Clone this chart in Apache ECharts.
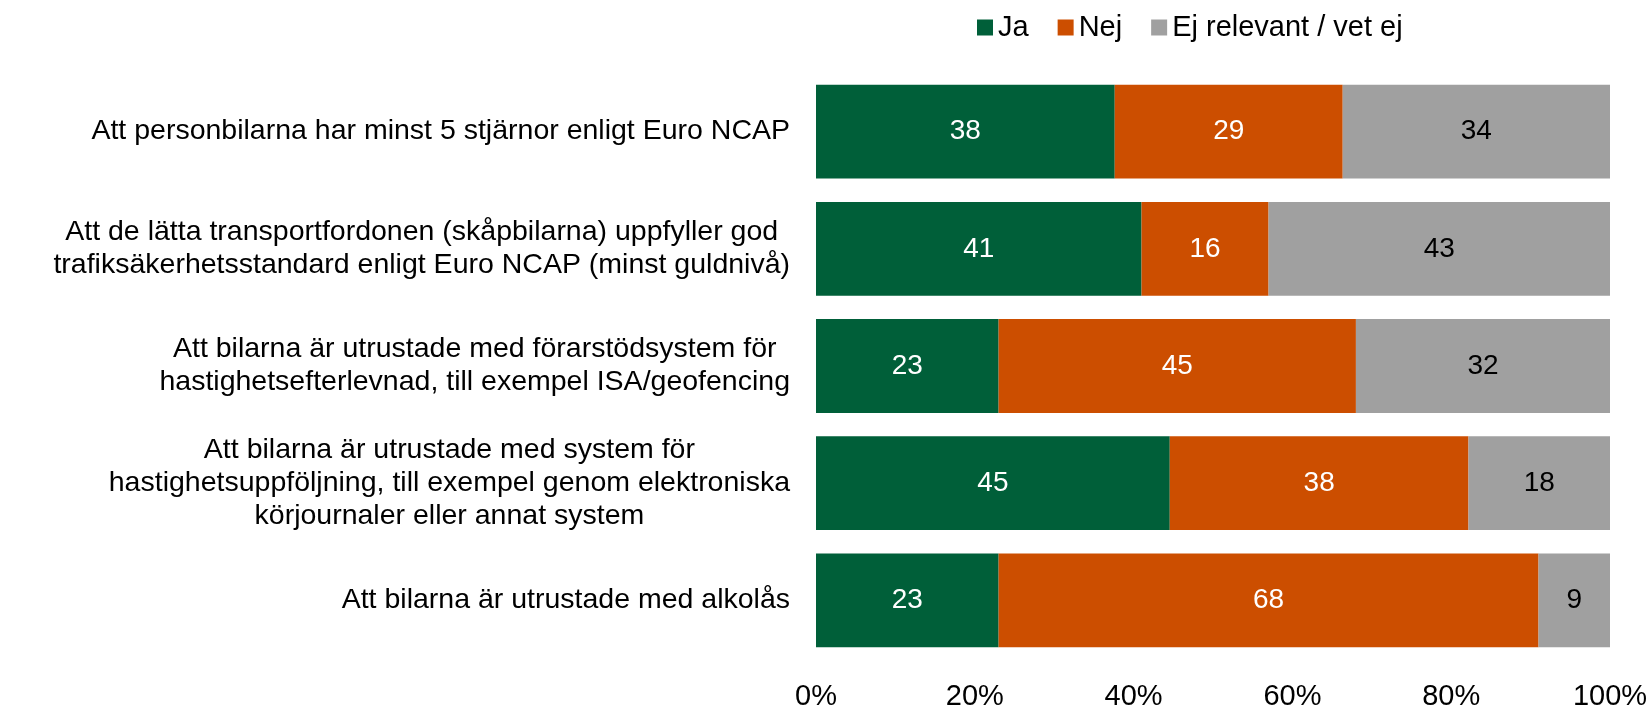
<!DOCTYPE html>
<html>
<head>
<meta charset="utf-8">
<script src="https://cdn.jsdelivr.net/npm/echarts@6/dist/echarts.min.js"></script>
<style>
  html, body { margin: 0; padding: 0; background: #fff; }
  #main { width: 1652px; height: 709px; }
</style>
</head>
<body>
<div id="main"></div>
<script>
var categories = [
  'Att personbilarna har minst 5 stjärnor enligt Euro NCAP',
  'Att de lätta transportfordonen (skåpbilarna) uppfyller god\ntrafiksäkerhetsstandard enligt Euro NCAP (minst guldnivå)',
  'Att bilarna är utrustade med förarstödsystem för\nhastighetsefterlevnad, till exempel ISA/geofencing',
  'Att bilarna är utrustade med system för\nhastighetsuppföljning, till exempel genom elektroniska\nkörjournaler eller annat system',
  'Att bilarna är utrustade med alkolås'
];
var ja = [38, 41, 23, 45, 23];
var nej = [29, 16, 45, 38, 68];
var ejRelevant = [34, 43, 32, 18, 9];
var xTicks = ['0%', '20%', '40%', '60%', '80%', '100%'];

var FONT = '"Liberation Sans", Arial, sans-serif';
var FS = 29;

// rounded values can sum to 101, so scale each row to 100 like a 100% stacked bar
function share(arr, i) {
  var total = ja[i] + nej[i] + ejRelevant[i];
  return arr[i] / total * 100;
}
function mkSeries(name, arr, color, textColor) {
  return {
    name: name,
    type: 'bar',
    stack: 'all',
    barCategoryGap: '20%',
    itemStyle: { color: color },
    label: {
      show: true,
      position: 'inside',
      color: textColor,
      fontFamily: FONT,
      fontSize: 28,
      formatter: function (p) { return arr[p.dataIndex]; }
    },
    emphasis: { disabled: true },
    data: arr.map(function (v, i) { return share(arr, i); })
  };
}

var myChart = echarts.init(document.getElementById('main'));
var option = {
  animation: false,
  textStyle: { fontFamily: FONT },
  legend: {
    left: 972,
    top: 8,
    itemWidth: 16,
    itemHeight: 16,
    itemGap: 29,
    icon: 'rect',
    textStyle: { fontSize: FS, color: '#000', fontFamily: FONT },
    data: ['Ja', 'Nej', 'Ej relevant / vet ej']
  },
  grid: { left: 816, right: 42, top: 73, bottom: 50, containLabel: false, outerBoundsMode: 'none' },
  xAxis: {
    type: 'value',
    min: 0,
    max: 100,
    interval: 20,
    axisLine: { show: false },
    axisTick: { show: false },
    splitLine: { show: false },
    axisLabel: {
      margin: 23,
      color: '#000',
      fontSize: FS,
      fontFamily: FONT,
      formatter: function (v) { return xTicks[v / 20]; }
    }
  },
  yAxis: {
    type: 'category',
    inverse: true,
    data: categories,
    axisLine: { show: false },
    axisTick: { show: false },
    axisLabel: {
      margin: 26,
      color: '#000',
      formatter: function (v) {
        return v.split('\n').map(function (l) { return '{c|' + l + '}'; }).join('\n');
      },
      rich: {
        c: { align: 'center', fontSize: 28.5, lineHeight: 33, fontFamily: FONT, color: '#000' }
      }
    }
  },
  series: [
    mkSeries('Ja', ja, '#005F39', '#fff'),
    mkSeries('Nej', nej, '#CC4E00', '#fff'),
    mkSeries('Ej relevant / vet ej', ejRelevant, '#A0A0A0', '#000')
  ]
};
myChart.setOption(option);
</script>
</body>
</html>
